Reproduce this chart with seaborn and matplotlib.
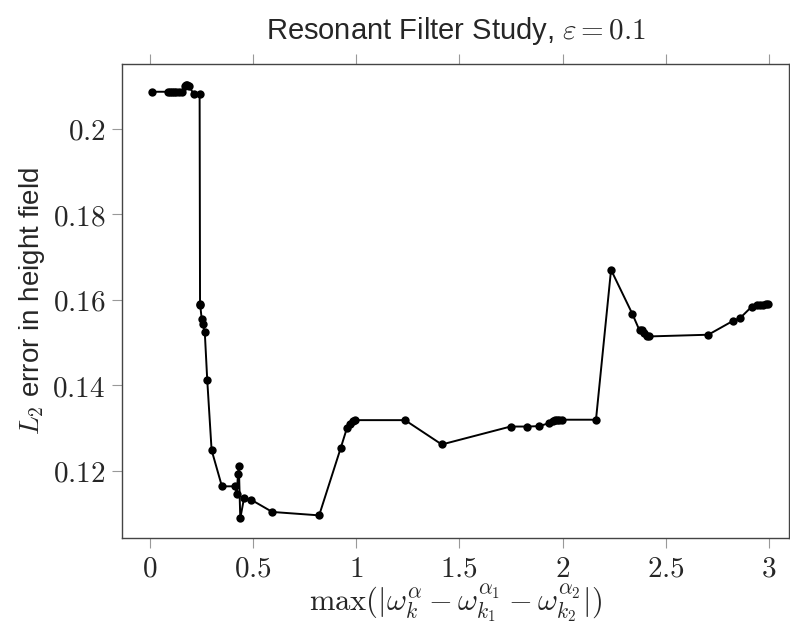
import matplotlib
matplotlib.use("Agg")
import matplotlib.pyplot as plt
import numpy as np
import pandas as pd
import seaborn as sns

# values
gap = [0.012, 0.09, 0.10, 0.11, 0.12, 0.13, 0.14, 0.155, 0.17, 0.175, 0.18, 0.19,
       0.215, 0.242, 0.244, 0.245, 0.252, 0.257, 0.267, 0.279, 0.300, 0.350,
       0.414, 0.422, 0.428, 0.432, 0.439, 0.457, 0.490, 0.594, 0.821, 0.925,
       0.956, 0.970, 0.983, 0.995, 1.237, 1.415, 1.748, 1.829, 1.887, 1.935,
       1.955, 1.965, 1.975, 1.985, 1.995, 2.162, 2.235, 2.338, 2.373, 2.384,
       2.394, 2.408, 2.417, 2.706, 2.824, 2.860, 2.917, 2.940, 2.955, 2.97,
       2.985, 2.995]
err = [0.2087, 0.2087, 0.2087, 0.2087, 0.2087, 0.2087, 0.2087, 0.2087, 0.2101,
       0.2103, 0.2102, 0.2100, 0.2081, 0.2081, 0.1590, 0.1587, 0.1555, 0.1543,
       0.1524, 0.1411, 0.1248, 0.1163, 0.1163, 0.1146, 0.1192, 0.1210, 0.1088,
       0.1135, 0.1132, 0.1103, 0.1095, 0.1252, 0.1300, 0.1309, 0.1315, 0.1318,
       0.1318, 0.1261, 0.1303, 0.1303, 0.1304, 0.1311, 0.1316, 0.1318, 0.1319,
       0.1319, 0.1319, 0.1319, 0.1670, 0.1567, 0.1528, 0.1528, 0.1522, 0.1516,
       0.1514, 0.1518, 0.1550, 0.1557, 0.1584, 0.1587, 0.1588, 0.1588, 0.1589,
       0.1589]
x_ticks = [0, 0.5, 1, 1.5, 2, 2.5, 3]
x_labels = ["0", "0.5", "1", "1.5", "2", "2.5", "3"]
y_ticks = [0.12, 0.14, 0.16, 0.18, 0.2]
y_labels = ["0.12", "0.14", "0.16", "0.18", "0.2"]

df = pd.DataFrame({"gap": gap, "err": err})

sns.set_theme(style="ticks")
plt.rcParams["font.family"] = ["DejaVu Sans"]
plt.rcParams["mathtext.fontset"] = "cm"

fig = plt.figure(figsize=(7.9, 6.28), dpi=100)
ax = fig.add_axes([122 / 790, 1 - 538 / 628, 667 / 790, 474 / 628])

sns.lineplot(data=df, x="gap", y="err", sort=False, color="black",
             linewidth=1.4, marker="o", markersize=6, markeredgewidth=0, ax=ax)

ax.set_xlim(-0.134, 3.097)
ax.set_ylim(0.1042, 0.2152)
ax.set_xticks(x_ticks)
ax.set_xticklabels(["$" + t + "$" for t in x_labels], fontsize=21)
ax.set_yticks(y_ticks)
ax.set_yticklabels(["$" + t + "$" for t in y_labels], fontsize=21)
ax.tick_params(axis="both", direction="out", length=7, width=0.8, color="#999999",
               top=True, right=False, pad=5)
for s in ax.spines.values():
    s.set_color("#444444")
    s.set_linewidth(1.0)

ax.set_xlabel(r"$\max(|\omega_k^\alpha - \omega_{k_1}^{\alpha_1} - \omega_{k_2}^{\alpha_2}|)$",
              fontsize=22, labelpad=0)
ax.set_ylabel(r"$L_2$ error in height field", fontsize=20,
              fontfamily="Liberation Sans", labelpad=4)
ax.set_title(r"Resonant Filter Study, $\varepsilon = 0.1$", fontsize=21,
             fontfamily="Liberation Sans", pad=18)

fig.savefig("out.png", dpi=100)
